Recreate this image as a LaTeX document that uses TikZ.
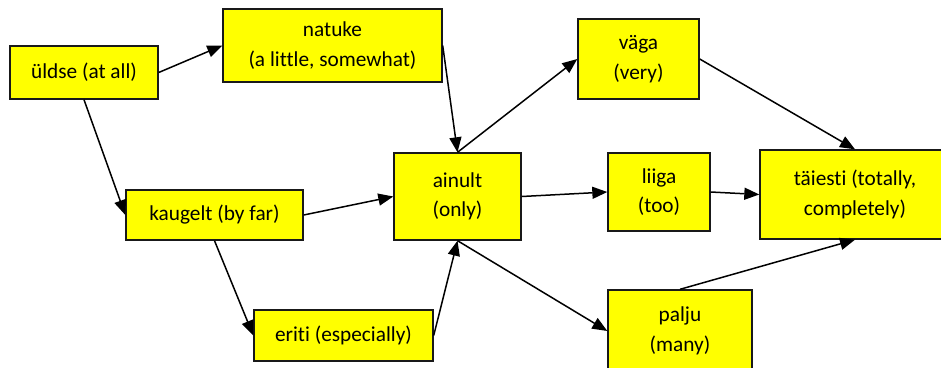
\documentclass[tikz,border=0pt]{standalone}
\usepackage{fontspec}
\setmainfont{Carlito}[Ligatures=NoCommon]
\usetikzlibrary{arrows.meta}

\definecolor{boxfill}{RGB}{255,255,0}

\tikzset{
  term/.style={draw=black!90, line width=1.4pt, fill=boxfill, inner sep=0pt,
    align=center, font=\fontsize{21.3}{29.5}\selectfont},
  link/.style={line width=1.5pt, -{Triangle[length=15pt,width=12pt]}},
}

\begin{document}
\begin{tikzpicture}[x=1pt, y=-1pt]
  \useasboundingbox (0,0) rectangle (941,367);

  % word boxes
  \node[term, minimum width=148pt, minimum height=53pt] (uldse)   at (84,72.5)    {üldse (at all)};
  \node[term, minimum width=219pt, minimum height=73pt] (natuke)  at (332.5,45.5) {natuke\\(a little, somewhat)};
  \node[term, minimum width=177pt, minimum height=50pt] (kaugelt) at (214.5,215)  {kaugelt (by far)};
  \node[term, minimum width=179pt, minimum height=51pt] (eriti)   at (343.5,335.5){eriti (especially)};
  \node[term, minimum width=127pt, minimum height=87pt] (ainult)  at (457.5,196.5){ainult\\(only)};
  \node[term, minimum width=121pt, minimum height=80pt] (vaga)    at (638.5,59)   {väga\\(very)};
  \node[term, minimum width=102pt, minimum height=78pt] (liiga)   at (659,192)    {liiga\\(too)};
  \node[term, minimum width=144pt, minimum height=82pt] (palju)   at (680,331)    {palju\\(many)};
  \node[term, minimum width=190pt, minimum height=89pt] (taiesti) at (855,194.5)  {täiesti (totally,\\completely)};

  % arrows
  \draw[link] (uldse.east)   -- (natuke.west);
  \draw[link] (uldse.south)  -- (kaugelt.west);
  \draw[link] (natuke.east)  -- (ainult.north);
  \draw[link] (kaugelt.east) -- (ainult.west);
  \draw[link] (kaugelt.south)-- (eriti.west);
  \draw[link] (eriti.east)   -- (ainult.south);
  \draw[link] (ainult.north) -- (vaga.west);
  \draw[link] (ainult.east)  -- (liiga.west);
  \draw[link] (ainult.south) -- (palju.west);
  \draw[link] (vaga.east)    -- (taiesti.north);
  \draw[link] (liiga.east)   -- (taiesti.west);
  \draw[link] (palju.north)  -- (taiesti.south);
\end{tikzpicture}
\end{document}
